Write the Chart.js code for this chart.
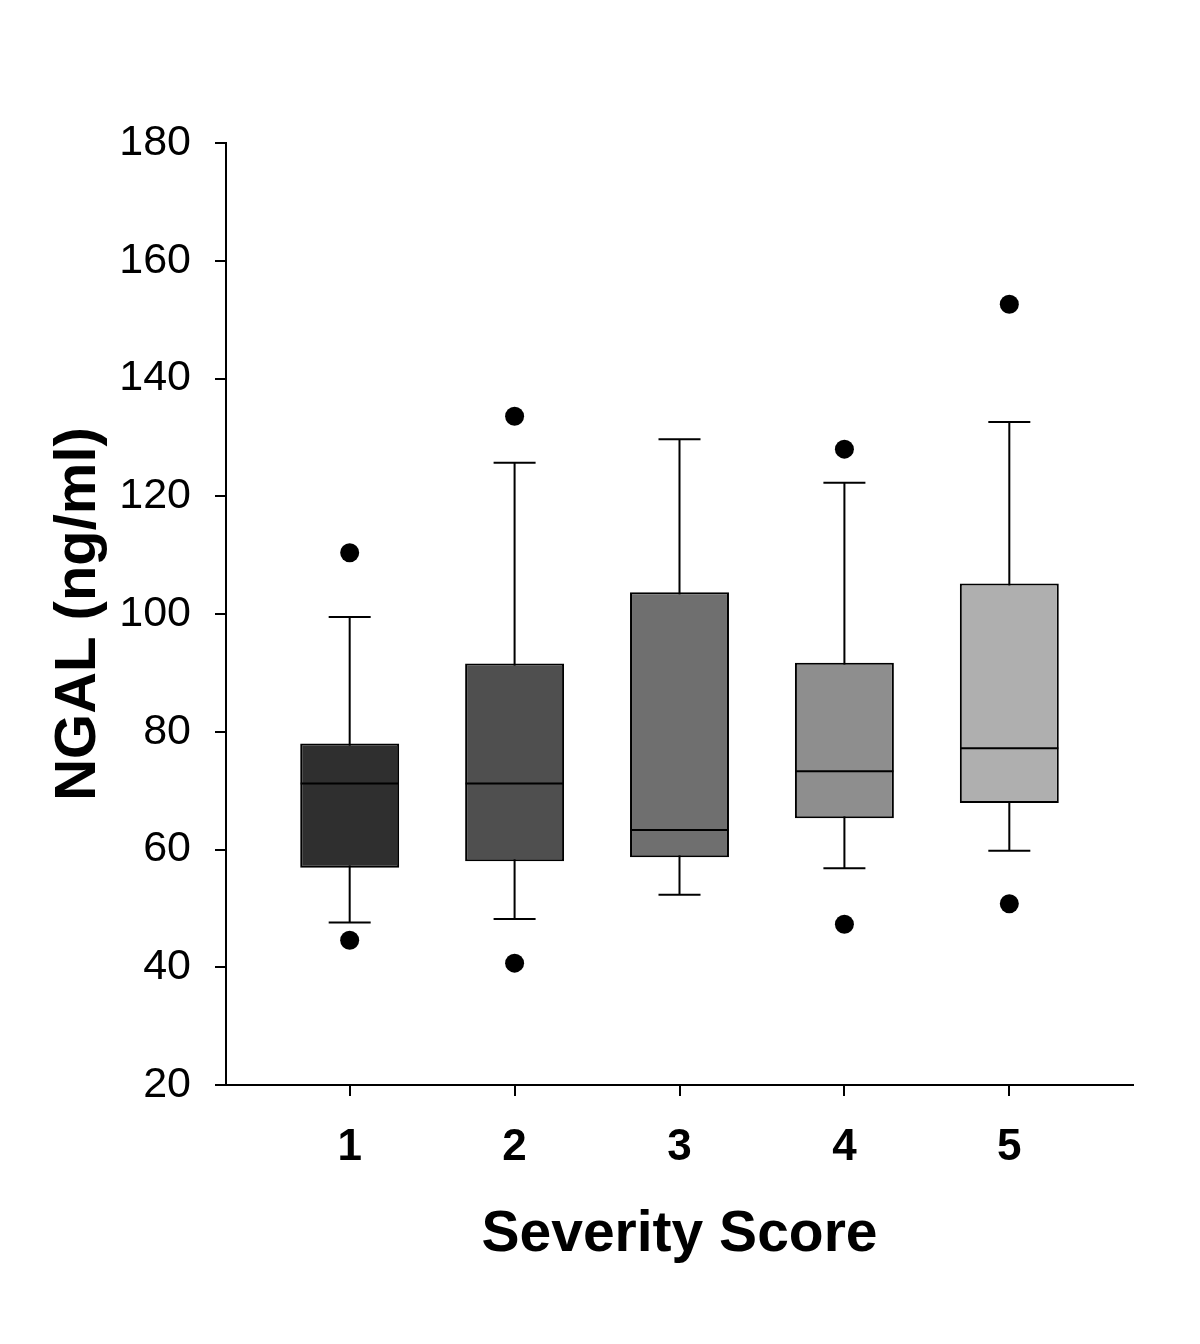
<!DOCTYPE html>
<html>
<head>
<meta charset="utf-8">
<script src="https://cdn.jsdelivr.net/npm/chart.js@4"></script>
<style>
    html, body { margin: 0; padding: 0; background: #fff; }
    #wrap { width: 1200px; height: 1344px; position: relative; }
</style>
</head>
<body>
<div id="wrap"><canvas id="boxChart"></canvas></div>
<script>
// severity score groups
const categories = ['1', '2', '3', '4', '5'];
const groupX = [1, 2, 3, 4, 5];

// box plot statistics, NGAL (ng/ml)
const whiskerLow = [47.6, 48.2, 52.3, 56.8, 59.8];
const q1 = [56.9, 58.0, 58.7, 65.3, 67.9];
const median = [71.2, 71.2, 63.3, 73.3, 77.2];
const q3 = [78.0, 91.6, 103.7, 91.7, 105.2];
const whiskerHigh = [99.5, 125.7, 129.7, 122.3, 132.6];

// outliers
const outlierX = [1, 1, 2, 2, 4, 4, 5, 5];
const outlierY = [110.4, 44.6, 133.6, 40.7, 128.0, 47.3, 152.6, 50.8];

const yTicks = [20, 40, 60, 80, 100, 120, 140, 160, 180];

const boxColors = ['#2f2f2f', '#4f4f4f', '#6f6f6f', '#8e8e8e', '#afafaf'];
const FONT = "'Liberation Sans', Arial, Helvetica, sans-serif";

document.addEventListener('DOMContentLoaded', () => {
    renderBoxChart();
});

function renderBoxChart() {
    const ctx = document.getElementById('boxChart').getContext('2d');

    const boxes = groupX.map((x, i) => ({ x: x, y: [q1[i], q3[i]] }));
    const whiskers = groupX.map((x, i) => ({ x: x, y: [whiskerLow[i], whiskerHigh[i]] }));
    const medians = groupX.map((x, i) => ({ x: x, y: median[i] }));
    const caps = groupX.map((x, i) => ({ x: x, y: whiskerLow[i] }))
        .concat(groupX.map((x, i) => ({ x: x, y: whiskerHigh[i] })));
    const outliers = outlierX.map((x, i) => ({ x: x, y: outlierY[i] }));

    new Chart(ctx, {
        type: 'bar',
        data: {
            datasets: [
                {
                    label: 'whisker',
                    data: whiskers,
                    grouped: false,
                    order: 4,
                    backgroundColor: '#000',
                    borderWidth: 0,
                    categoryPercentage: 1,
                    barPercentage: 0.0122,
                    inflateAmount: 0
                },
                {
                    label: 'box',
                    data: boxes,
                    grouped: false,
                    order: 3,
                    backgroundColor: boxColors,
                    borderColor: '#000',
                    borderWidth: 2,
                    borderSkipped: false,
                    categoryPercentage: 1,
                    barPercentage: 0.6
                },
                {
                    label: 'cap',
                    type: 'scatter',
                    data: caps,
                    order: 2,
                    pointStyle: 'line',
                    pointRadius: 21,
                    pointBorderColor: '#000',
                    pointBorderWidth: 2
                },
                {
                    label: 'median',
                    type: 'scatter',
                    data: medians,
                    order: 1,
                    pointStyle: 'line',
                    pointRadius: 49,
                    pointBorderColor: '#000',
                    pointBorderWidth: 2
                },
                {
                    label: 'outlier',
                    type: 'scatter',
                    data: outliers,
                    order: 0,
                    pointStyle: 'circle',
                    pointRadius: 9.5,
                    pointBackgroundColor: '#000',
                    pointBorderWidth: 0
                }
            ]
        },
        options: {
            responsive: true,
            maintainAspectRatio: false,
            animation: false,
            events: [],
            layout: {
                padding: { top: 143, right: 67, left: 0, bottom: 0 }
            },
            plugins: {
                legend: { display: false },
                tooltip: { enabled: false }
            },
            scales: {
                x: {
                    type: 'linear',
                    min: 0.25,
                    max: 5.75,
                    offset: false,
                    afterFit: (scale) => { scale.height = 259; },
                    afterBuildTicks: (scale) => {
                        scale.ticks = groupX.map(v => ({ value: v }));
                    },
                    grid: {
                        display: true,
                        offset: false,
                        drawOnChartArea: false,
                        drawTicks: true,
                        tickLength: 11,
                        color: '#000',
                        lineWidth: 2
                    },
                    border: { display: true, color: '#000', width: 2 },
                    ticks: {
                        color: '#000',
                        padding: 25,
                        maxRotation: 0,
                        autoSkip: false,
                        font: { family: FONT, size: 44, weight: 'bold' },
                        callback: (value) => categories[groupX.indexOf(value)]
                    },
                    title: {
                        display: true,
                        text: 'Severity Score',
                        color: '#000',
                        padding: 75,
                        font: { family: FONT, size: 57, weight: 'bold' }
                    }
                },
                y: {
                    type: 'linear',
                    min: 20,
                    max: 180,
                    afterFit: (scale) => { scale.width = 226; },
                    afterBuildTicks: (scale) => {
                        scale.ticks = yTicks.map(v => ({ value: v }));
                    },
                    grid: {
                        display: true,
                        drawOnChartArea: false,
                        drawTicks: true,
                        tickLength: 11,
                        color: '#000',
                        lineWidth: 2
                    },
                    border: { display: true, color: '#000', width: 2 },
                    ticks: {
                        color: '#000',
                        padding: 24,
                        font: { family: FONT, size: 43 }
                    },
                    title: {
                        display: true,
                        text: 'NGAL (ng/ml)',
                        color: '#000',
                        padding: 44,
                        font: { family: FONT, size: 58, weight: 'bold' }
                    }
                }
            }
        }
    });
}
</script>
</body>
</html>
